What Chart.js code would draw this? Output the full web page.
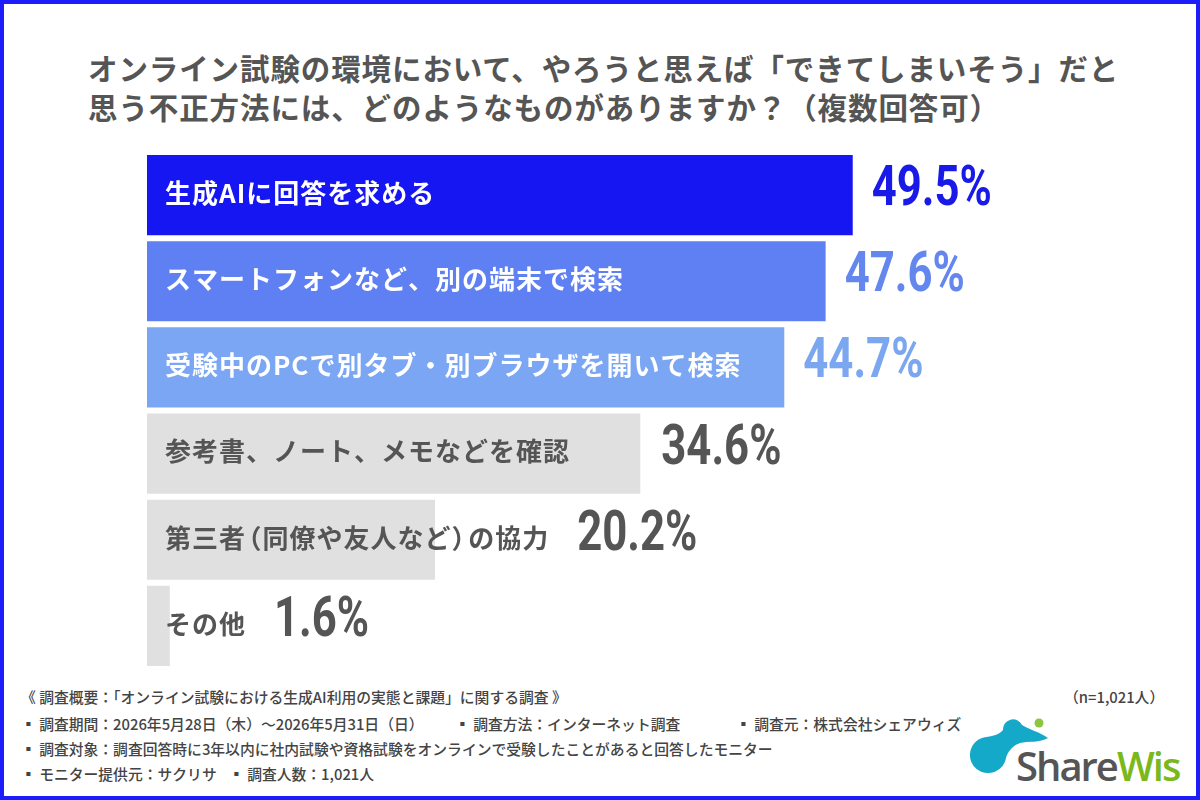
<!DOCTYPE html>
<html lang="ja">
<head>
<meta charset="utf-8">
<script src="https://cdn.jsdelivr.net/npm/chart.js@4.4.1/dist/chart.umd.min.js"></script>
<style>
  html, body { margin: 0; padding: 0; background: #fff; }
  body { width: 1200px; height: 800px; position: relative; overflow: hidden; font-family: "Noto Sans CJK JP", sans-serif; }
  .frame { position: absolute; left: 0; top: 0; width: 1192px; height: 792px; border: 4px solid #1d1dfb; }
  .title { position: absolute; left: 88px; top: 48px; font-size: 29.5px; font-weight: 700; color: #555; line-height: 39px; letter-spacing: 0.9px; }
  #chartBox { position: absolute; left: 0; top: 150px; width: 1200px; height: 525px; }
  .note { position: absolute; font-size: 14.8px; font-weight: 500; color: #444; white-space: pre; line-height: 18px; }
  .logoText { position: absolute; left: 1016px; top: 746px; font-family: "Open Sans", sans-serif; font-size: 40px; line-height: 40px; font-weight: 600; letter-spacing: -2px; color: #555; }
  .logoText span { color: #7ab81c; }
</style>
</head>
<body>
<div class="frame"></div>
<div class="title">オンライン試験の環境において、やろうと思えば「できてしまいそう」だと<br>思う不正方法には、どのようなものがありますか？（複数回答可）</div>
<div id="chartBox"><canvas id="myChart" width="1200" height="525"></canvas></div>

<div class="note" style="left:21px; top:688px;">《 調査概要：「オンライン試験における生成AI利用の実態と課題」に関する調査 》</div>
<div class="note" style="left:21px; top:715px;">▪ 調査期間：2026年5月28日（木）～2026年5月31日（日）</div>
<div class="note" style="left:455px; top:715px;">▪ 調査方法：インターネット調査</div>
<div class="note" style="left:736px; top:715px;">▪ 調査元：株式会社シェアウィズ</div>
<div class="note" style="left:21px; top:740px;">▪ 調査対象：調査回答時に3年以内に社内試験や資格試験をオンラインで受験したことがあると回答したモニター</div>
<div class="note" style="left:21px; top:765px;">▪ モニター提供元：サクリサ</div>
<div class="note" style="left:229px; top:765px;">▪ 調査人数：1,021人</div>
<div class="note" style="left:1064px; top:688px;">（n=1,021人）</div>

<svg style="position:absolute; left:960px; top:710px;" width="100" height="80" viewBox="0 0 100 80">
  <circle cx="79" cy="13" r="4.5" fill="#8cc63f"/>
  <path d="M28 63 A18 18 0 0 1 22 28 C30 26 38 26 43 20 A10 10 0 0 1 62 15 C70 20 80 22 88 28 C80 33 68 31 60 33 C52 36 48 42 46 48 A18 18 0 0 1 28 63 Z" fill="#14a9c9"/>
</svg>
<div class="logoText">Share<span>Wis</span></div>

<script>
// 不正方法（複数回答）
const categories = [
  "生成AIに回答を求める",
  "スマートフォンなど、別の端末で検索",
  "受験中のPCで別タブ・別ブラウザを開いて検索",
  "参考書、ノート、メモなどを確認",
  "第三者（同僚や友人など）の協力",
  "その他"
];
const values = [49.5, 47.6, 44.7, 34.6, 20.2, 1.6];

const barColors = ["#1616f2", "#5f80f2", "#7aa6f4", "#e0e0e0", "#e0e0e0", "#e0e0e0"];
const valueColors = ["#1a1ae8", "#6487ee", "#7ba6f0", "#555555", "#555555", "#555555"];
const labelColors = ["#ffffff", "#ffffff", "#ffffff", "#555555", "#555555", "#555555"];

// 括弧は少し詰めて描く
const drawLabel = (ctx, text, x, y) => {
  const em = 26, gap = 1;
  for (const ch of text) {
    if (ch === "（") {
      ctx.fillText(ch, x - em * 0.4, y);
      x += em * 0.6 + gap;
    } else if (ch === "）") {
      ctx.fillText(ch, x, y);
      x += em * 0.6 + gap;
    } else {
      ctx.fillText(ch, x, y);
      x += ctx.measureText(ch).width + gap;
    }
  }
  return x;
};

const barLabels = {
  id: "barLabels",
  afterDatasetsDraw(chart) {
    const ctx = chart.ctx;
    const meta = chart.getDatasetMeta(0);
    meta.data.forEach((bar, i) => {
      ctx.save();
      ctx.font = 'bold 26px "Noto Sans CJK JP"';
      ctx.textBaseline = "middle";
      ctx.fillStyle = labelColors[i];
      const textEnd = drawLabel(ctx, categories[i], bar.base + 18, bar.y - 2);
      ctx.restore();

      let vx = bar.x + 19;
      if (i >= 3) vx = Math.max(bar.x + 21, textEnd + 28);
      ctx.save();
      ctx.font = 'bold 56px Roboto';
      ctx.textBaseline = "middle";
      ctx.fillStyle = valueColors[i];
      ctx.translate(vx, bar.y - 4);
      ctx.scale(0.78, 1);
      ctx.fillText(values[i].toFixed(1) + "%", 0, 0);
      ctx.restore();
    });
  }
};

new Chart(document.getElementById("myChart"), {
  type: "bar",
  data: {
    labels: categories,
    datasets: [{
      data: values,
      backgroundColor: barColors,
      borderWidth: 0,
      barPercentage: 0.93,
      categoryPercentage: 1.0
    }]
  },
  options: {
    indexAxis: "y",
    responsive: false,
    animation: false,
    layout: { padding: { left: 147, right: 55, top: 2, bottom: 6 } },
    scales: {
      x: { display: false, min: 0, max: 70 },
      y: { display: false }
    },
    plugins: {
      legend: { display: false },
      tooltip: { enabled: false }
    }
  },
  plugins: [barLabels]
});
</script>
</body>
</html>
